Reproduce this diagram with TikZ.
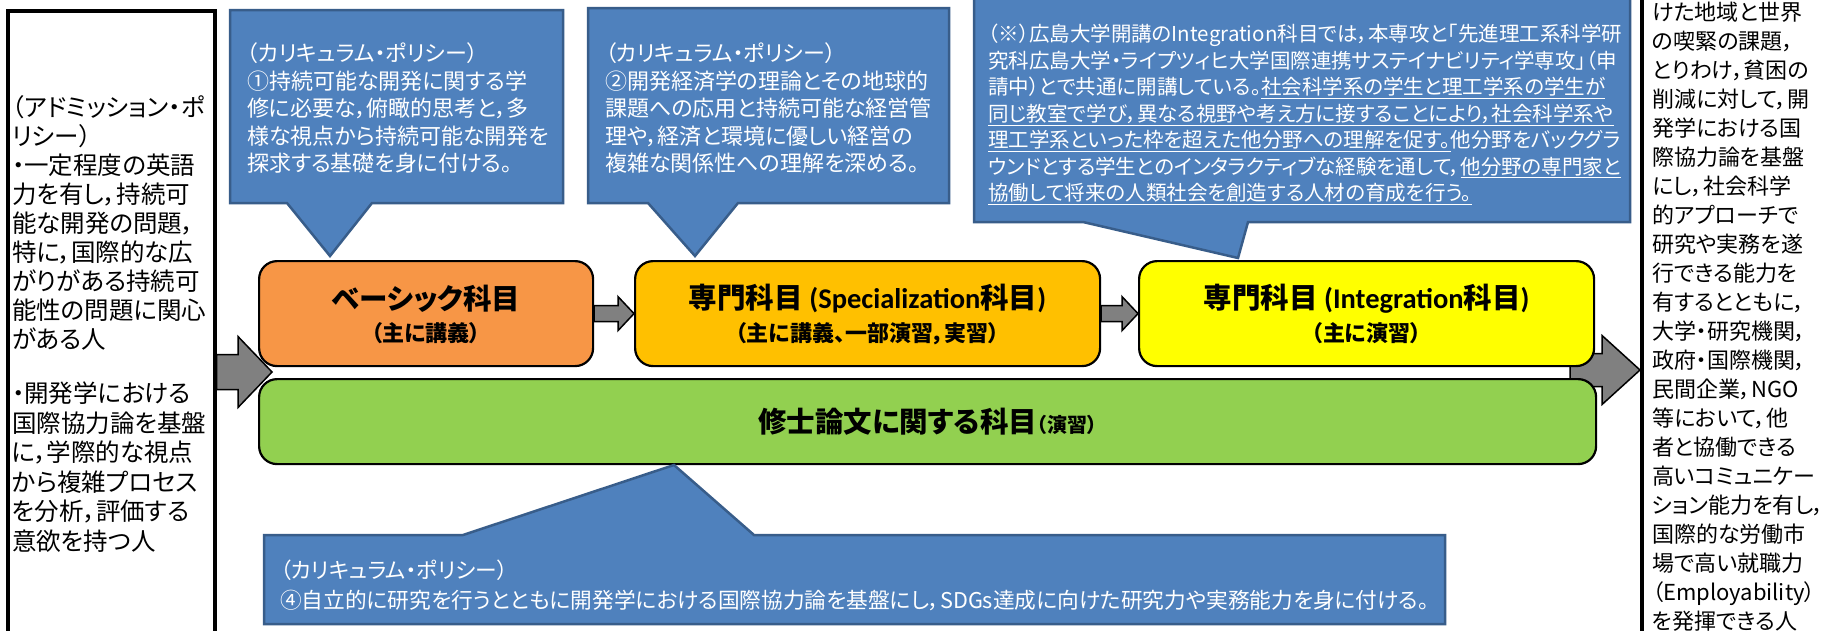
\documentclass[tikz,border=0pt]{standalone}
\usepackage{fontspec}
\setmainfont{Noto Sans CJK JP}[RawFeature=+palt]
\newfontfamily\jp{Noto Sans CJK JP}[RawFeature=+palt]
\newfontfamily\lat{Carlito}
\usetikzlibrary{calc}
\definecolor{cfill}{HTML}{4F81BD}
\definecolor{cline}{HTML}{385D8A}
\definecolor{orangeF}{HTML}{F79646}
\definecolor{goldF}{HTML}{FFC000}
\definecolor{yellowF}{HTML}{FFFF00}
\definecolor{greenF}{HTML}{92D050}
\definecolor{arrowF}{HTML}{808080}
\newcommand\fsz[2]{\fontsize{#1}{#2}\selectfont}
\newcommand\blockarrow[5]{\draw[garrow] let \p1=#1, \p2=#2 in
  (\x1,\y2+#3) -- (\x2-#5,\y2+#3) -- (\x2-#5,\y2+#4) -- (\x2,\y2) --
  (\x2-#5,\y2-#4) -- (\x2-#5,\y2-#3) -- (\x1,\y2-#3) -- cycle;}
\begin{document}
\begin{tikzpicture}[x=1pt,y=-1pt,
  callout/.style={fill=cfill,draw=cline,line width=2.5pt,line join=miter},
  ctext/.style={text=white,align=left,inner sep=0pt,anchor=west},
  stage/.style={draw=black,line width=2.2pt,rounded corners=18pt,anchor=north west,inner sep=0pt},
  ttl/.style={font=\jp\bfseries\fsz{28.5}{28.5},inner sep=0pt},
  subt/.style={font=\jp\bfseries\fsz{22}{22},inner sep=0pt},
  garrow/.style={fill=arrowF,draw=black,line width=1.5pt,line join=miter},
  sidebox/.style={draw=black,line width=3.5pt,anchor=north west,inner sep=0pt},
  stext/.style={align=left,inner sep=0pt,anchor=west}
]
\useasboundingbox (0,0) rectangle (1830,630);
\clip (0,0) rectangle (1830,630);
\fill[white] (0,0) rectangle (1830,630);

% side boxes
\node[sidebox,minimum width=207,minimum height=660] (lbox) at (6,9) {};
\node[sidebox,minimum width=240,minimum height=700] (rbox) at (1640,-30) {};

% big arrows (behind the stage boxes)
\coordinate (ltip) at (272,372);
\coordinate (rstart) at (1570,370);
\blockarrow{(lbox.east |- ltip)}{(ltip)}{17.5pt}{35.5pt}{34pt}
\blockarrow{(rstart)}{(rbox.west |- rstart)}{16.5pt}{34.5pt}{38pt}

% stage boxes
\node[stage,fill=orangeF,minimum width=334,minimum height=105] (ob) at (258,260) {};
\node[stage,fill=goldF,minimum width=465,minimum height=105] (gb) at (634,260) {};
\node[stage,fill=yellowF,minimum width=455,minimum height=105] (yb) at (1138,260) {};
\node[stage,fill=greenF,minimum width=1337,minimum height=85] (grb) at (258,378) {};

% small arrows
\blockarrow{(ob.east)}{(gb.west)}{8pt}{17pt}{16pt}
\blockarrow{(gb.east)}{(yb.west)}{8pt}{17pt}{16pt}

% stage texts
\node[ttl] (obt) at ($(ob.center)+(0,-15)$) {ベーシック科目};
\node[subt] (obs) at ($(ob.center)+(0,20)$) {（主に講義）};
\node[ttl] (gbt) at ($(gb.center)+(0,-15)$) {専門科目 {\lat (Specialization}科目{\lat )}};
\node[subt] (gbs) at ($(gb.center)+(0,20)$) {（主に講義、一部演習，実習）};
\node[ttl] (ybt) at ($(yb.center)+(0,-15)$) {専門科目 {\lat (Integration}科目{\lat )}};
\node[subt] (ybs) at ($(yb.center)+(0,20)$) {（主に演習）};
\node[ttl] (grt) at (grb.center) {修士論文に関する科目{\fsz{20}{20}（演習）}};

% callouts
\draw[callout] (230,10) -- (563,10) -- (563,203) -- (372,203) -- (330,256) -- (287,203) -- (230,203) -- cycle;
\draw[callout] (588,8) -- (949,8) -- (949,203) -- (738,203) -- (695,256) -- (648,203) -- (588,203) -- cycle;
\draw[callout] (974,-10) -- (1630,-10) -- (1630,222) -- (1248,222) -- (1238,258) -- (1083,222) -- (974,222) -- cycle;
\draw[callout] (264,535) -- (463,535) -- (674,465) -- (754,535) -- (1445,535) -- (1445,624) -- (264,624) -- cycle;

\node[ctext,font=\jp\fsz{22}{27.5}] (c1t) at (247,108) {（カリキュラム・ポリシー）\\①持続可能な開発に関する学\\修に必要な，俯瞰的思考と，多\\様な視点から持続可能な開発を\\探求する基礎を身に付ける。};
\node[ctext,font=\jp\fsz{22}{27.5}] (c2t) at (605,108) {（カリキュラム・ポリシー）\\②開発経済学の理論とその地球的\\課題への応用と持続可能な経営管\\理や，経済と環境に優しい経営の\\複雑な関係性への理解を深める。};
\node[ctext,font=\jp\fsz{20.5}{26.5}] (c3t) at (988,114.5) {（※）広島大学開講のIntegration科目では，本専攻と「先進理工系科学研\\
究科広島大学・ライプツィヒ大学国際連携サステイナビリティ学専攻」（申\\
請中）とで共通に開講している。\underline{社会科学系の学生と理工学系の学生が}\\
\underline{同じ教室で学び，異なる視野や考え方に接することにより，社会科学系や}\\
\underline{理工学系といった枠を超えた他分野への理解を促す。}他分野をバックグラ\\
ウンドとする学生とのインタラクティブな経験を通して，\underline{他分野の専門家と}\\
\underline{協働して将来の人類社会を創造する人材の育成を行う。}};
\node[ctext,font=\jp\fsz{21.7}{30}] (c4t) at (280,585) {（カリキュラム・ポリシー）\\④自立的に研究を行うとともに開発学における国際協力論を基盤にし，SDGs達成に向けた研究力や実務能力を身に付ける。};

% side texts
\node[stext,font=\jp\fsz{24.5}{29}] (lt1) at (12,223) {（アドミッション・ポ\\リシー）\\・一定程度の英語\\力を有し，持続可\\能な開発の問題，\\特に，国際的な広\\がりがある持続可\\能性の問題に関心\\がある人};
\node[stext,font=\jp\fsz{24.5}{29.5}] (lt2) at (12,467) {・開発学における\\国際協力論を基盤\\に，学際的な視点\\から複雑プロセス\\を分析，評価する\\意欲を持つ人};
\node[stext,font=\jp\fsz{22}{29}] (rt) at (1652,316.5) {けた地域と世界\\の喫緊の課題，\\とりわけ，貧困の\\削減に対して，開\\発学における国\\際協力論を基盤\\にし，社会科学\\的アプローチで\\研究や実務を遂\\行できる能力を\\有するとともに，\\大学・研究機関，\\政府・国際機関，\\民間企業，NGO\\等において，他\\者と協働できる\\高いコミュニケー\\ション能力を有し，\\国際的な労働市\\場で高い就職力\\（Employability）\\を発揮できる人};
\end{tikzpicture}
\end{document}
